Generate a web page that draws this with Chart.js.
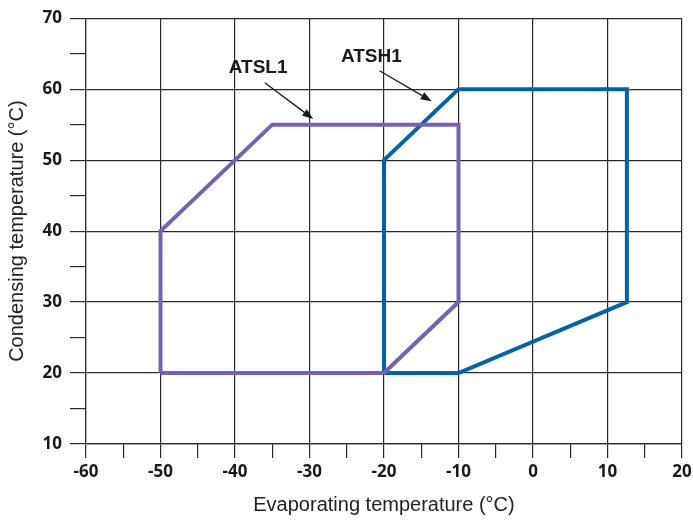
<!DOCTYPE html>
<html>
<head>
<meta charset="utf-8">
<script src="https://cdn.jsdelivr.net/npm/chart.js@4/dist/chart.umd.min.js"></script>
<style>
  html, body { margin: 0; padding: 0; background: #fff; }
  #wrap { width: 693px; height: 520px; position: relative; }
</style>
</head>
<body>
<div id="wrap"><canvas id="c" width="693" height="520"></canvas></div>
<script>
// Operating envelopes: evaporating temperature (°C) vs condensing temperature (°C)
const atsl1Evap = [-50, -50, -35, -10, -10, -20, -50];
const atsl1Cond = [20, 40, 55, 55, 30, 20, 20];
const atsh1Evap = [-20, -20, -10, 12.6, 12.6, -10, -20];
const atsh1Cond = [20, 50, 60, 60, 30, 20, 20];

const seriesNames = ['ATSL1', 'ATSH1'];
const xTicks = [-60, -50, -40, -30, -20, -10, 0, 10, 20];
const yTicks = [10, 20, 30, 40, 50, 60, 70];

// Label callouts, in data units: text anchor and arrow from/to
const calloutText = ['ATSL1', 'ATSH1'];
const calloutTextX = [-36.9, -21.7];
const calloutTextY = [63.0, 64.5];
const arrowFromX = [-36.0, -20.6];
const arrowFromY = [60.9, 62.6];
const arrowToX = [-29.5, -13.6];
const arrowToY = [55.8, 58.3];

const toPoints = (xs, ys) => xs.map((x, i) => ({ x: x, y: ys[i] }));

const gridDark = '#2b2b2b';
const isMajor = v => Math.abs(v % 10) < 1e-9;

const calloutPlugin = {
  id: 'callouts',
  afterDatasetsDraw(chart) {
    const { ctx, scales: { x, y } } = chart;
    ctx.save();
    ctx.fillStyle = '#1a1a1a';
    ctx.strokeStyle = '#1a1a1a';
    ctx.font = 'bold 19px "Liberation Sans", Arial, sans-serif';
    ctx.textAlign = 'center';
    ctx.textBaseline = 'middle';
    calloutText.forEach((t, i) => {
      ctx.fillText(t, x.getPixelForValue(calloutTextX[i]), y.getPixelForValue(calloutTextY[i]));
      const x0 = x.getPixelForValue(arrowFromX[i]), y0 = y.getPixelForValue(arrowFromY[i]);
      const x1 = x.getPixelForValue(arrowToX[i]), y1 = y.getPixelForValue(arrowToY[i]);
      const ang = Math.atan2(y1 - y0, x1 - x0);
      const head = 11, half = 4;
      const bx = x1 - head * Math.cos(ang), by = y1 - head * Math.sin(ang);
      ctx.lineWidth = 1.3;
      ctx.beginPath();
      ctx.moveTo(x0, y0);
      ctx.lineTo(bx, by);
      ctx.stroke();
      ctx.beginPath();
      ctx.moveTo(x1, y1);
      ctx.lineTo(bx + half * Math.sin(ang), by - half * Math.cos(ang));
      ctx.lineTo(bx - half * Math.sin(ang), by + half * Math.cos(ang));
      ctx.closePath();
      ctx.fill();
    });
    ctx.restore();
  }
};

new Chart(document.getElementById('c'), {
  type: 'scatter',
  data: {
    datasets: [
      {
        label: seriesNames[0],
        data: toPoints(atsl1Evap, atsl1Cond),
        showLine: true,
        borderColor: '#7463b1',
        borderWidth: 4,
        borderJoinStyle: 'miter',
        pointRadius: 0,
        tension: 0,
        fill: false
      },
      {
        label: seriesNames[1],
        data: toPoints(atsh1Evap, atsh1Cond),
        showLine: true,
        borderColor: '#0063a5',
        borderWidth: 4,
        borderJoinStyle: 'miter',
        pointRadius: 0,
        tension: 0,
        fill: false
      }
    ]
  },
  options: {
    responsive: false,
    animation: false,
    layout: { padding: { top: 17, right: 11, left: 0, bottom: 0 } },
    plugins: { legend: { display: false }, tooltip: { enabled: false } },
    scales: {
      x: {
        type: 'linear',
        min: xTicks[0],
        max: xTicks[xTicks.length - 1],
        afterBuildTicks: s => {
          const t = [];
          for (let v = s.min; v <= s.max; v += 5) t.push({ value: v });
          s.ticks = t;
        },
        afterFit: s => { s.height = 76; s.paddingRight = 0; s.paddingLeft = 0; },
        grid: {
          color: c => isMajor(c.tick.value) ? gridDark : 'rgba(0,0,0,0)',
          tickColor: gridDark,
          lineWidth: 1.2,
          tickLength: 14,
          drawTicks: true
        },
        border: { display: true, color: gridDark, width: 1.2 },
        ticks: {
          autoSkip: false,
          maxRotation: 0,
          padding: 4,
          color: '#1a1a1a',
          font: { family: '"Open Sans", sans-serif', size: 17, weight: 'bold' },
          callback: v => (xTicks.includes(v) ? String(v) : '')
        },
        title: {
          display: true,
          text: 'Evaporating temperature (°C)',
          color: '#222',
          padding: { top: 0, bottom: 3 },
          font: { family: '"Liberation Sans", Arial, sans-serif', size: 20 }
        }
      },
      y: {
        type: 'linear',
        min: yTicks[0],
        max: yTicks[yTicks.length - 1],
        afterBuildTicks: s => {
          const t = [];
          for (let v = s.min; v <= s.max; v += 5) t.push({ value: v });
          s.ticks = t;
        },
        afterFit: s => { s.width = 86; },
        grid: {
          color: c => isMajor(c.tick.value) ? gridDark : 'rgba(0,0,0,0)',
          tickColor: gridDark,
          lineWidth: 1.2,
          tickLength: 16,
          drawTicks: true
        },
        border: { display: true, color: gridDark, width: 1.2 },
        ticks: {
          autoSkip: false,
          padding: 8,
          color: '#1a1a1a',
          font: { family: '"Open Sans", sans-serif', size: 17, weight: 'bold' },
          callback: v => (yTicks.includes(v) ? String(v) : '')
        },
        title: {
          display: true,
          text: 'Condensing temperature (°C)',
          color: '#222',
          padding: { top: 5, bottom: 2 },
          font: { family: '"Liberation Sans", Arial, sans-serif', size: 20 }
        }
      }
    }
  },
  plugins: [calloutPlugin]
});
</script>
</body>
</html>
